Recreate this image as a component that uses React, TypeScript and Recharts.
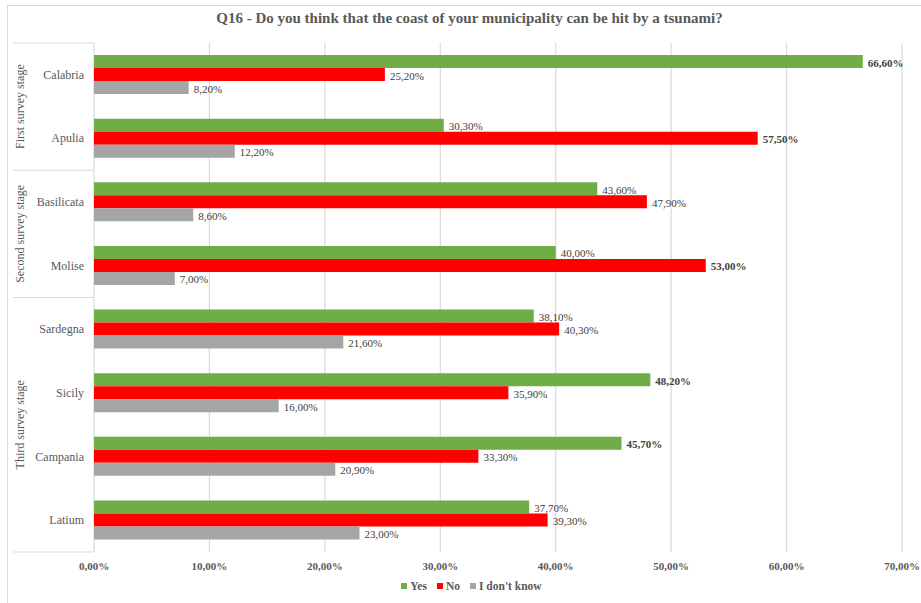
import React from "react";
import {
  Bar,
  BarChart,
  CartesianGrid,
  LabelList,
  Legend,
  XAxis,
  YAxis,
} from "recharts";

// Survey answers per region (share of respondents, %)
const regions = [
  "Calabria",
  "Apulia",
  "Basilicata",
  "Molise",
  "Sardegna",
  "Sicily",
  "Campania",
  "Latium",
];
const yesValues = [66.6, 30.3, 43.6, 40.0, 38.1, 48.2, 45.7, 37.7];
const noValues = [25.2, 57.5, 47.9, 53.0, 40.3, 35.9, 33.3, 39.3];
const dontKnowValues = [8.2, 12.2, 8.6, 7.0, 21.6, 16.0, 20.9, 23.0];
// which label is printed in bold in each row
const boldSeries = ["yes", "no", "", "no", "", "yes", "yes", ""];

const stages = ["First survey stage", "Second survey stage", "Third survey stage"];
const stageSizes = [2, 2, 4];

const xTicks = [0, 10, 20, 30, 40, 50, 60, 70];

const TITLE = "Q16 - Do you think that the coast of your municipality can be hit by a tsunami?";

const W = 921;
const H = 603;
const PLOT_TOP = 43;
const PLOT_BOTTOM = 552;
const LEFT = 94;
const FONT = '"Liberation Serif", "Times New Roman", serif';
const TEXT = "#595959";
const LINE = "#d9d9d9";

const data = regions.map((name, i) => ({
  name,
  yes: yesValues[i],
  no: noValues[i],
  dk: dontKnowValues[i],
  bold: boldSeries[i],
}));

// row index where each stage group starts
const stageStart: number[] = [];
stageSizes.reduce((acc, n) => {
  stageStart.push(acc);
  return acc + n;
}, 0);

const fmtPct = (v: number) => v.toFixed(2).replace(".", ",") + "%";

function RegionTick(props: any) {
  const { y, payload, index } = props;
  const band = (PLOT_BOTTOM - PLOT_TOP) / regions.length;
  const top = y - band / 2;
  const s = stageStart.indexOf(index);
  return (
    <g>
      <text
        x={84}
        y={y}
        textAnchor="end"
        dominantBaseline="central"
        fontSize={12}
        fontFamily={FONT}
        fill={TEXT}
      >
        {payload.value}
      </text>
      {s >= 0 && (
        <>
          <line x1={13} x2={LEFT} y1={top} y2={top} stroke={LINE} strokeWidth={1} />
          <text
            transform={`translate(20, ${top + (stageSizes[s] * band) / 2}) rotate(-90)`}
            textAnchor="middle"
            dominantBaseline="central"
            fontSize={12}
            fontFamily={FONT}
            fill={TEXT}
          >
            {stages[s]}
          </text>
        </>
      )}
      {index === regions.length - 1 && (
        <line
          x1={13}
          x2={LEFT}
          y1={top + band}
          y2={top + band}
          stroke={LINE}
          strokeWidth={1}
        />
      )}
    </g>
  );
}

function makeLabel(key: string) {
  return (props: any) => {
    const { x, y, width, height, value, index } = props;
    const bold = data[index]?.bold === key;
    return (
      <text
        x={x + width + 5}
        y={y + height / 2 + 1}
        dominantBaseline="central"
        fontSize={11}
        fontFamily={FONT}
        fontWeight={bold ? "bold" : "normal"}
        fill="#404040"
      >
        {fmtPct(value)}
      </text>
    );
  };
}

function LegendContent() {
  const items = [
    { label: "Yes", color: "#70ad47" },
    { label: "No", color: "#ff0000" },
    { label: "I don't know", color: "#a5a5a5" },
  ];
  return (
    <div
      style={{
        display: "flex",
        justifyContent: "center",
        gap: 10,
        fontFamily: FONT,
        fontSize: 11.5,
        fontWeight: "bold",
        color: TEXT,
        paddingLeft: 22,
      }}
    >
      {items.map((it) => (
        <span key={it.label} style={{ display: "inline-flex", alignItems: "center", gap: 3 }}>
          <span style={{ width: 6, height: 6, background: it.color, display: "inline-block" }} />
          {it.label}
        </span>
      ))}
    </div>
  );
}

export default function App() {
  return (
    <div style={{ position: "absolute", left: 0, top: 0, width: W, height: H, background: "#fff", overflow: "hidden" }}>
      <div
        style={{
          position: "absolute",
          left: 7,
          top: 5,
          width: W,
          height: H,
          border: `1px solid ${LINE}`,
          boxSizing: "border-box",
        }}
      />
      <div
        style={{
          position: "absolute",
          top: 10,
          left: 0,
          width: W,
          textAlign: "center",
          fontFamily: FONT,
          fontWeight: "bold",
          fontSize: 15,
          color: TEXT,
          paddingLeft: 18,
          boxSizing: "border-box",
        }}
      >
        {TITLE}
      </div>
      <div style={{ position: "absolute", left: 0, top: 0 }}>
        <BarChart
          width={W}
          height={H}
          data={data}
          layout="vertical"
          margin={{ top: PLOT_TOP, right: 19, bottom: 1, left: 0 }}
          barGap={0}
          barSize={13}
        >
          <CartesianGrid horizontal={false} stroke={LINE} strokeWidth={1.2} />
          <XAxis
            type="number"
            domain={[0, 70]}
            ticks={xTicks}
            interval={0}
            axisLine={false}
            tickLine={false}
            height={30}
            tickMargin={4}
            tick={{ fontSize: 11, fontFamily: FONT, fontWeight: "bold", fill: TEXT }}
            tickFormatter={(v: number) => fmtPct(v)}
          />
          <YAxis
            type="category"
            dataKey="name"
            width={LEFT}
            axisLine={false}
            tickLine={false}
            interval={0}
            tick={<RegionTick />}
          />
          <Legend
            verticalAlign="bottom"
            height={20}
            content={<LegendContent />}
            wrapperStyle={{ top: 580, left: 0, width: W }}
          />
          <Bar dataKey="yes" name="Yes" fill="#70ad47" isAnimationActive={false}>
            <LabelList dataKey="yes" content={makeLabel("yes")} />
          </Bar>
          <Bar dataKey="no" name="No" fill="#ff0000" isAnimationActive={false}>
            <LabelList dataKey="no" content={makeLabel("no")} />
          </Bar>
          <Bar dataKey="dk" name="I don't know" fill="#a5a5a5" isAnimationActive={false}>
            <LabelList dataKey="dk" content={makeLabel("dk")} />
          </Bar>
        </BarChart>
      </div>
    </div>
  );
}
